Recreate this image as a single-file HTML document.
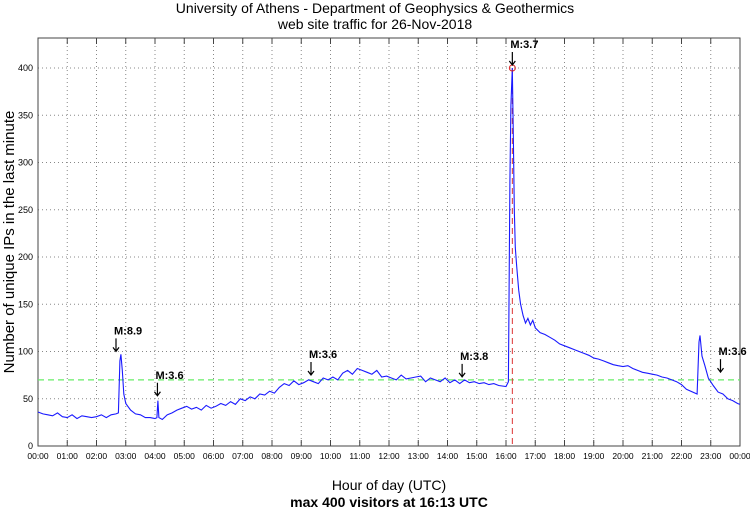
<!DOCTYPE html>
<html><head><meta charset="utf-8"><style>
body{margin:0;background:#fff;}
svg{display:block;font-family:"Liberation Sans",sans-serif;}
</style></head><body>
<svg width="750" height="511" viewBox="0 0 750 511">
<text x="375" y="13" text-anchor="middle" font-size="14">University of Athens - Department of Geophysics &amp; Geothermics</text>
<text x="375" y="29" text-anchor="middle" font-size="14">web site traffic for 26-Nov-2018</text>
<g id="grid"></g>
<rect x="38" y="38" width="702" height="408" fill="none" stroke="#444" stroke-width="1"/>
<g id="axes"></g>
<g id="marks"></g>
<text transform="translate(14,242) rotate(-90)" text-anchor="middle" font-size="15">Number of unique IPs in the last minute</text>
<text x="389" y="490" text-anchor="middle" font-size="14">Hour of day (UTC)</text>
<text x="389" y="507" text-anchor="middle" font-size="14" font-weight="bold">max 400 visitors at 16:13 UTC</text>
</svg>
<script>
const times=[0,10,20,30,40,50,60,70,80,90,100,110,120,130,140,150,160,165,168,170,173,176,180,190,200,210,220,230,240,244,246,248,255,265,275,285,295,305,315,325,335,345,355,365,375,385,395,405,415,425,435,445,455,465,475,485,495,505,515,525,535,545,555,565,575,585,595,605,615,625,635,645,655,665,675,685,695,705,715,725,735,745,755,765,775,785,795,805,815,825,835,845,855,865,875,885,895,905,915,925,935,945,960,965,968,970,973,975,977,979,982,986,990,995,1000,1005,1010,1015,1020,1030,1040,1050,1060,1070,1080,1090,1100,1110,1120,1130,1140,1150,1160,1170,1180,1190,1200,1210,1220,1230,1240,1250,1260,1270,1280,1290,1300,1310,1320,1330,1352,1356,1358,1362,1368,1375,1385,1395,1405,1415,1425,1435,1440];
const visitors=[36,34,33,32,35,31,30,33,29,32,31,30,31,33,30,33,34,35,90,97,80,55,45,38,34,33,30,30,29,30,48,30,28,33,35,38,40,42,39,41,38,43,40,42,45,43,47,44,50,48,52,50,55,54,58,56,62,66,64,69,65,67,70,68,66,72,70,73,70,77,80,76,82,80,78,76,80,73,74,72,70,75,71,72,73,74,68,72,70,68,72,67,70,66,70,67,68,66,67,65,66,64,63,68,280,360,400,330,250,210,190,165,150,138,130,135,128,133,125,120,118,115,112,108,106,104,102,100,98,96,93,92,90,88,86,85,84,85,82,80,78,77,76,75,73,72,70,68,65,60,55,110,117,95,85,72,64,57,55,50,48,45,44];
const yTicks=[0,50,100,150,200,250,300,350,400];
const xTickLabels=["00:00","01:00","02:00","03:00","04:00","05:00","06:00","07:00","08:00","09:00","10:00","11:00","12:00","13:00","14:00","15:00","16:00","17:00","18:00","19:00","20:00","21:00","22:00","23:00","00:00"];
const threshold=70;
const maxTime=973;
const eventTimes=[160,245,560,870,973,1400];
const eventLabels=["M:8.9","M:3.6","M:3.6","M:3.8","M:3.7","M:3.6"];
const eventValues=[97,50,72,70,400,75];

const NS="http://www.w3.org/2000/svg";
const X0=38,X1=740,Y0=446,Y400=68;
const xs=m=>X0+(X1-X0)*m/1440;
const ys=v=>Y0-(Y0-Y400)*v/400;
function mk(tag,attrs,parent){const e=document.createElementNS(NS,tag);for(const k in attrs)e.setAttribute(k,attrs[k]);document.getElementById(parent).appendChild(e);return e;}
yTicks.forEach(t=>{
  const y=ys(t);
  if(t>0){const g=mk('line',{x1:X0,x2:X1,y1:y,y2:y,stroke:'#888','stroke-dasharray':'1,3'},'grid');
  
  }
  const l=mk('text',{x:X0-5,y:y+3,'text-anchor':'end','font-size':9},'axes');
  l.textContent=t;
  
  
});
xTickLabels.forEach((s,i)=>{
  const x=xs(i*60);
  if(i>0&&i<24){const g=mk('line',{x1:x,x2:x,y1:38,y2:Y0,stroke:'#888','stroke-dasharray':'1,3'},'grid');
  
  }
  const t1=mk('line',{x1:x,x2:x,y1:Y0,y2:Y0-6,stroke:'#444'},'axes');
  
  
  const t2=mk('line',{x1:x,x2:x,y1:38,y2:44,stroke:'#444'},'axes');
  
  
  const l=mk('text',{x:x,y:Y0+13,'text-anchor':'middle','font-size':8.5},'axes');
  l.textContent=s;
  
  
});
const th=mk('line',{x1:X0,x2:X1,y1:ys(threshold),y2:ys(threshold),stroke:'#66ee66','stroke-width':1.3,'stroke-dasharray':'6,4'},'marks');


const mx=mk('line',{x1:xs(maxTime),x2:xs(maxTime),y1:ys(400),y2:Y0,stroke:'#dd3333','stroke-dasharray':'6,4'},'marks');


const pts=times.map((t,i)=>xs(t).toFixed(1)+','+ys(visitors[i]).toFixed(1)).join(' ');
const line=mk('polyline',{points:pts,fill:'none',stroke:'#1a1aff','stroke-width':1.1},'marks');


const mc=mk('circle',{cx:xs(maxTime),cy:ys(400),r:3,fill:'none',stroke:'#dd2222'},'marks');


eventTimes.forEach((t,i)=>{
  const x=xs(t),y=ys(eventValues[i])-3;
  const a=mk('path',{d:`M${x},${y-13} L${x},${y} M${x-3},${y-4} L${x},${y} L${x+3},${y-4}`,stroke:'#000',fill:'none','stroke-width':1.2},'marks');
  
  
  const l=mk('text',{x:x-2,y:y-17,'font-size':11,'font-weight':'bold'},'marks');
  l.textContent=eventLabels[i];
  
  
});
</script>
</body></html>
